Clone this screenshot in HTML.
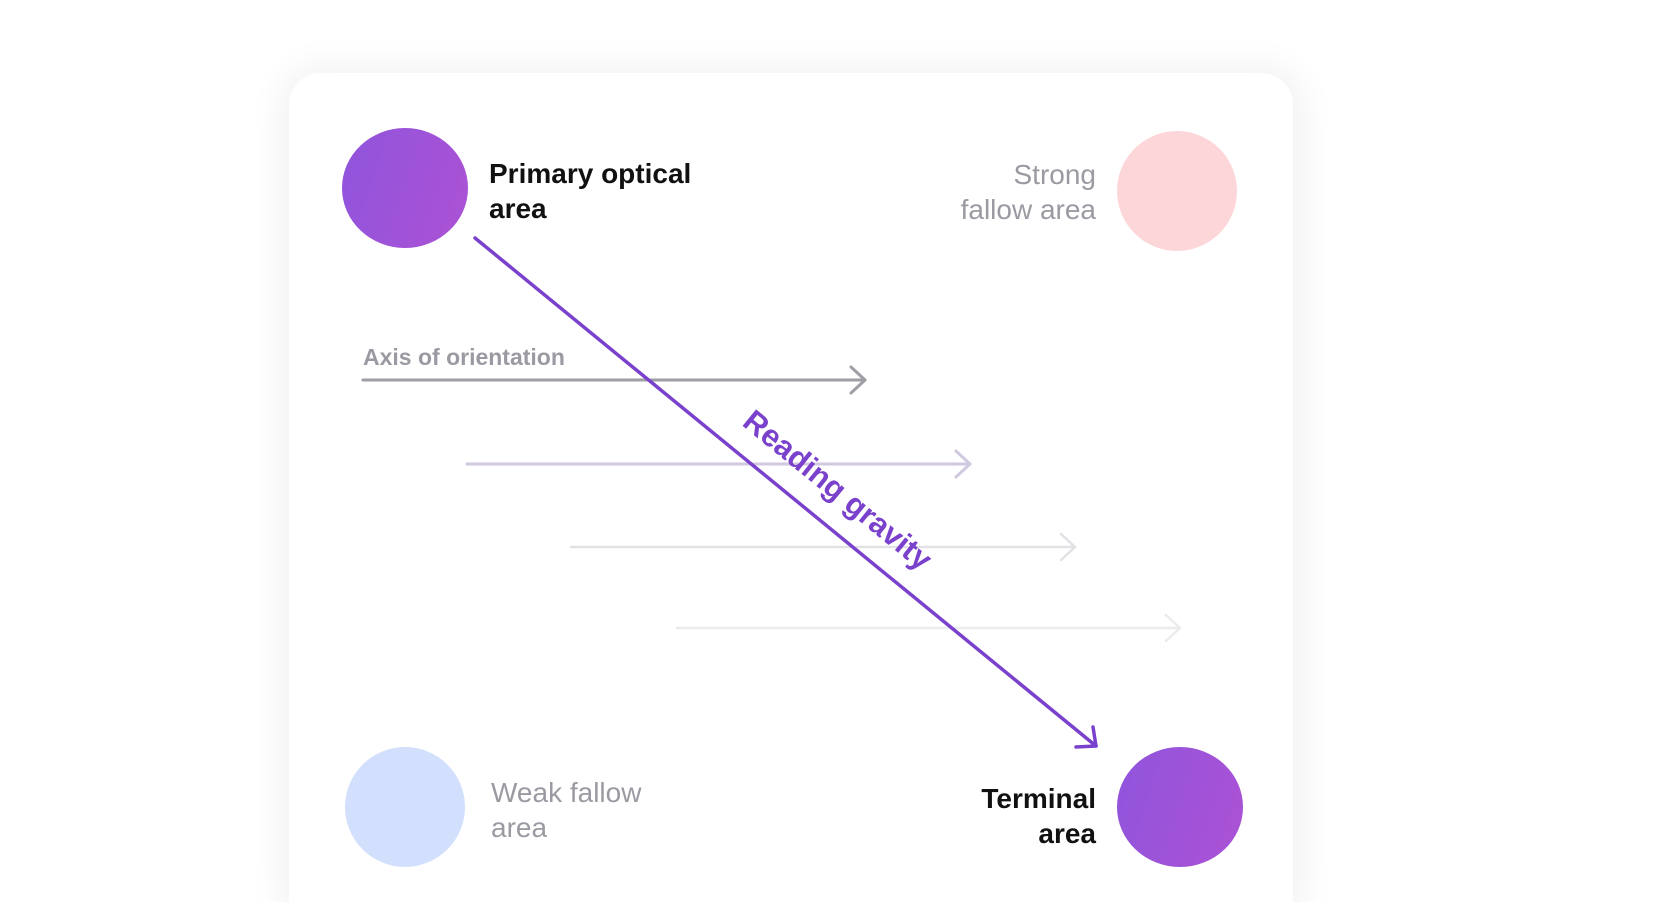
<!DOCTYPE html>
<html><head><meta charset="utf-8"><style>
html,body{margin:0;padding:0;background:#fff;width:1672px;height:902px;overflow:hidden}
svg{display:block}
text{font-family:"Liberation Sans",sans-serif}
</style></head><body>
<svg width="1672" height="902" viewBox="0 0 1672 902" xmlns="http://www.w3.org/2000/svg">
<defs>
<filter id="sh" x="-20%" y="-20%" width="140%" height="140%"><feGaussianBlur stdDeviation="18"/></filter>
<linearGradient id="pg" x1="0" y1="0" x2="1" y2="0.3"><stop offset="0" stop-color="#8f55dc"/><stop offset="1" stop-color="#a852d6"/></linearGradient>
</defs>
<rect x="280" y="66" width="1024" height="860" rx="40" fill="#000" opacity="0.05" filter="url(#sh)"/>
<rect x="289" y="73" width="1004" height="860" rx="32" fill="#fff"/>
<ellipse cx="405" cy="188" rx="63" ry="60" fill="url(#pg)"/>
<ellipse cx="1177" cy="191" rx="60" ry="60" fill="#fdd6d9"/>
<ellipse cx="405" cy="807" rx="60" ry="60" fill="#d3e0fd"/>
<ellipse cx="1180" cy="807" rx="63" ry="60" fill="url(#pg)"/>
<text x="489" y="183" font-size="28" font-weight="bold" fill="#111">Primary optical</text>
<text x="489" y="218" font-size="28" font-weight="bold" fill="#111">area</text>
<text x="1096" y="184" font-size="28" fill="#9a9aa2" text-anchor="end">Strong</text>
<text x="1096" y="219" font-size="28" fill="#9a9aa2" text-anchor="end">fallow area</text>
<text x="491" y="802" font-size="28" fill="#9a9aa2">Weak fallow</text>
<text x="491" y="837" font-size="28" fill="#9a9aa2">area</text>
<text x="1096" y="808" font-size="28" font-weight="bold" fill="#111" text-anchor="end">Terminal</text>
<text x="1096" y="843" font-size="28" font-weight="bold" fill="#111" text-anchor="end">area</text>
<text x="363" y="365" font-size="23" font-weight="bold" fill="#9a9aa2">Axis of orientation</text>
<g fill="none" stroke-linecap="round" stroke-linejoin="round" stroke-width="3">
<g stroke="#9e9ea4"><line x1="363" y1="380" x2="865" y2="380"/><polyline points="851,367 865,380 851,393"/></g>
<g stroke="#d2c8df"><line x1="467" y1="464" x2="970" y2="464"/><polyline points="956,451 970,464 956,477"/></g>
<g stroke="#e2e2e6" stroke-width="2.5"><line x1="571" y1="547" x2="1075" y2="547"/><polyline points="1061,534 1075,547 1061,560"/></g>
<g stroke="#ececef" stroke-width="2.5"><line x1="677" y1="628" x2="1180" y2="628"/><polyline points="1166,615 1180,628 1166,641"/></g>
<g stroke="#7a42cc" stroke-width="3.5"><line x1="475" y1="238" x2="1096" y2="746"/><polyline points="1076,747 1096,746 1093,727"/></g>
</g>
<text transform="translate(828,502) rotate(39.2)" font-size="31" font-weight="bold" fill="#7a42cc" text-anchor="middle" dy="-5">Reading gravity</text>
</svg>
</body></html>
